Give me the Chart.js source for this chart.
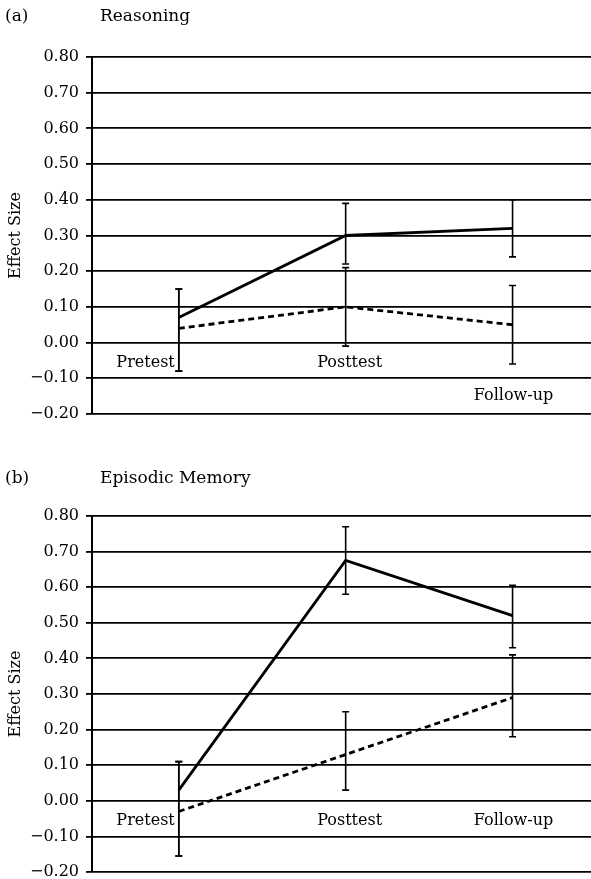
<!DOCTYPE html>
<html>
<head>
<meta charset="utf-8">
<script src="https://cdn.jsdelivr.net/npm/chart.js@4"></script>
<style>
  html, body { margin: 0; padding: 0; background: #fff; overflow: hidden; }
  body { width: 591px; height: 879px; position: relative; }
  canvas { position: absolute; left: 0; }
  #panelA { top: 0; }
  #panelB { top: 440px; }
</style>
</head>
<body>
<canvas id="panelA" width="591" height="440"></canvas>
<canvas id="panelB" width="591" height="460"></canvas>
<script>
// test occasions (x positions 0, 1, 2)
const stages = ['Pretest', 'Posttest', 'Follow-up'];

// y axis ticks
const yTicks = [0.80, 0.70, 0.60, 0.50, 0.40, 0.30, 0.20, 0.10, 0.00, -0.10, -0.20];

// (a) Reasoning
const reasoningSolid = [0.07, 0.30, 0.32];
const reasoningSolidLow = [-0.08, 0.22, 0.24];
const reasoningSolidHigh = [0.15, 0.39, 0.40];
const reasoningDashed = [0.04, 0.10, 0.05];
const reasoningDashedLow = [-0.08, -0.01, -0.06];
const reasoningDashedHigh = [0.15, 0.21, 0.16];

// (b) Episodic Memory
const memorySolid = [0.03, 0.675, 0.52];
const memorySolidLow = [-0.155, 0.58, 0.43];
const memorySolidHigh = [0.11, 0.77, 0.605];
const memoryDashed = [-0.03, 0.13, 0.29];
const memoryDashedLow = [-0.155, 0.03, 0.18];
const memoryDashedHigh = [0.11, 0.25, 0.41];

const INK = '#000';
const FONT = 'DejaVu Serif';

const toPoints = (vals) => vals.map((v, i) => ({ x: i, y: v }));

// draws error bars, the stage labels inside the plot and the panel heading
const extrasPlugin = {
    id: 'extras',
    afterDatasetsDraw(chart, args, opts) {
        const ctx = chart.ctx;
        const xs = chart.scales.x;
        const ys = chart.scales.y;
        ctx.save();
        ctx.strokeStyle = INK;
        ctx.lineWidth = 1.6;
        opts.bars.forEach(bar => {
            bar.low.forEach((lo, i) => {
                const hi = bar.high[i];
                if (lo == null || hi == null) return;
                const x = xs.getPixelForValue(i);
                const y1 = ys.getPixelForValue(lo);
                const y2 = ys.getPixelForValue(hi);
                ctx.beginPath();
                ctx.moveTo(x, y1); ctx.lineTo(x, y2);
                ctx.moveTo(x - 3.5, y1); ctx.lineTo(x + 3.5, y1);
                ctx.moveTo(x - 3.5, y2); ctx.lineTo(x + 3.5, y2);
                ctx.stroke();
            });
        });

        // stage names
        ctx.fillStyle = INK;
        ctx.font = '16px "' + FONT + '"';
        ctx.textBaseline = 'alphabetic';
        stages.forEach((s, i) => {
            const x = xs.getPixelForValue(i);
            const y = ys.getPixelForValue(opts.labelY[i]);
            if (i === 0) {
                ctx.textAlign = 'right';
                ctx.fillText(s, x - 4, y);
            } else {
                ctx.textAlign = 'center';
                ctx.fillText(s, x + (i === 1 ? 4 : 1), y);
            }
        });

        // panel heading
        ctx.textAlign = 'left';
        ctx.font = '17px "' + FONT + '"';
        ctx.fillText(opts.tag, 5, opts.headY);
        ctx.fillText(opts.heading, 100, opts.headY);
        ctx.restore();
    }
};

function makePanel(id, solid, dashed, bars, labelY, tag, heading, headY, padTop, padBottom) {
    const ctx = document.getElementById(id).getContext('2d');
    return new Chart(ctx, {
        type: 'line',
        data: {
            datasets: [
                {
                    data: toPoints(solid),
                    borderColor: INK,
                    borderWidth: 2.8,
                    pointRadius: 0,
                    tension: 0
                },
                {
                    data: toPoints(dashed),
                    borderColor: INK,
                    borderWidth: 2.8,
                    borderDash: [6, 4],
                    pointRadius: 0,
                    tension: 0
                }
            ]
        },
        options: {
            responsive: false,
            animation: false,
            layout: { padding: { left: 0, right: 0, top: padTop, bottom: padBottom } },
            plugins: {
                legend: { display: false },
                tooltip: { enabled: false },
                extras: { bars: bars, labelY: labelY, tag: tag, heading: heading, headY: headY }
            },
            scales: {
                x: {
                    type: 'linear',
                    min: -0.52,
                    max: 2.47,
                    display: false
                },
                y: {
                    min: -0.2,
                    max: 0.8,
                    afterBuildTicks: (scale) => {
                        scale.ticks = yTicks.map(v => ({ value: v }));
                    },
                    afterFit: (scale) => { scale.width = 92; },
                    ticks: {
                        color: INK,
                        padding: 7,
                        font: { family: FONT, size: 16 },
                        callback: (v) => (v < 0 ? '\u2212' : '') + Math.abs(v).toFixed(2)
                    },
                    grid: {
                        color: INK,
                        lineWidth: 1.8,
                        tickLength: 6
                    },
                    border: { display: true, color: INK, width: 2 },
                    title: {
                        display: true,
                        text: 'Effect Size',
                        color: INK,
                        padding: { top: 6, bottom: 0 },
                        font: { family: FONT, size: 16 }
                    }
                }
            }
        },
        plugins: [extrasPlugin]
    });
}

makePanel('panelA', reasoningSolid, reasoningDashed,
    [
        { low: reasoningSolidLow, high: reasoningSolidHigh },
        { low: reasoningDashedLow, high: reasoningDashedHigh }
    ],
    [-0.067, -0.067, -0.162], '(a)', 'Reasoning', 21, 57, 26);

makePanel('panelB', memorySolid, memoryDashed,
    [
        { low: memorySolidLow, high: memorySolidHigh },
        { low: memoryDashedLow, high: memoryDashedHigh }
    ],
    [-0.067, -0.067, -0.067], '(b)', 'Episodic Memory', 43, 76, 28);
</script>
</body>
</html>
